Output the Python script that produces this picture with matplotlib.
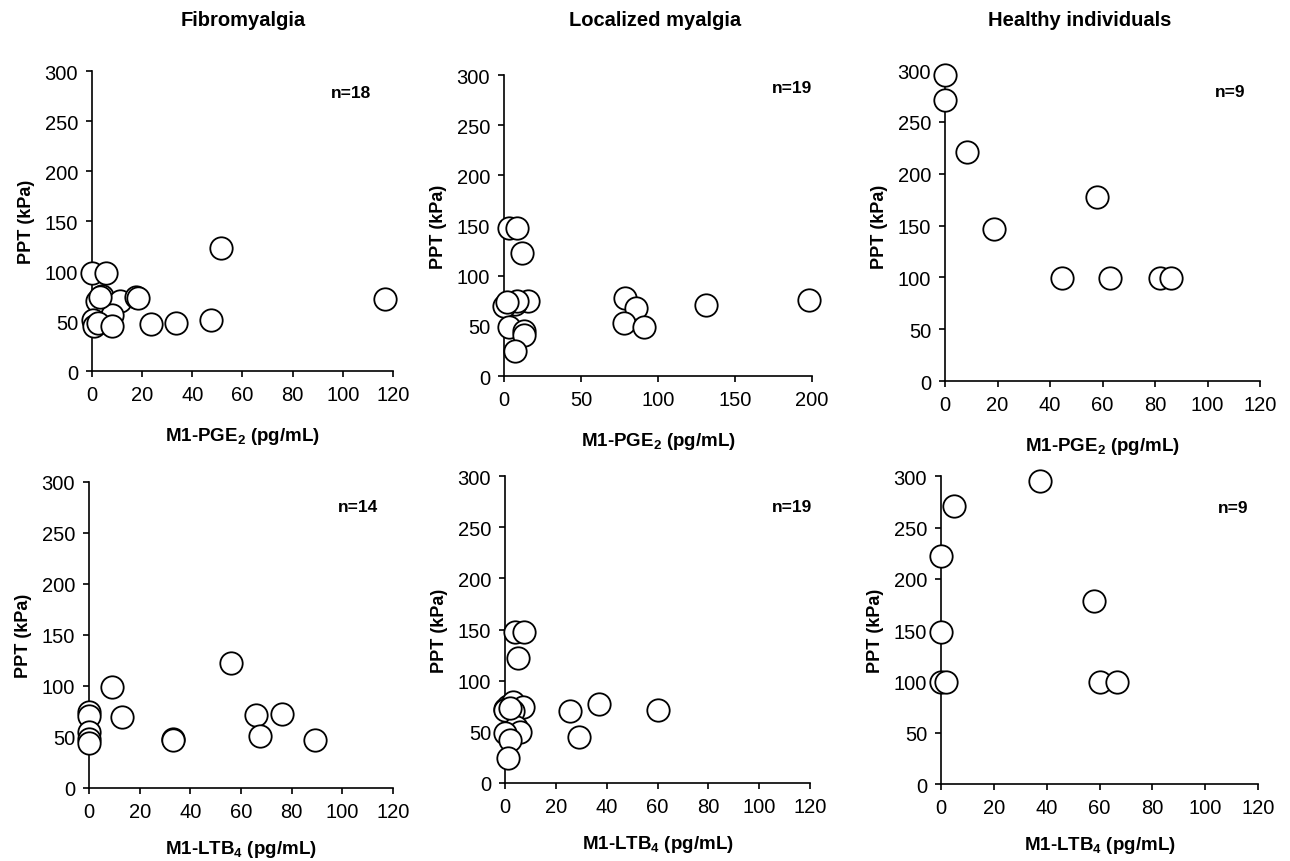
import matplotlib
matplotlib.use("Agg")
import matplotlib.pyplot as plt

plt.rcParams['font.family'] = ['Liberation Sans', 'DejaVu Sans']
plt.rcParams['mathtext.fontset'] = 'custom'
plt.rcParams['mathtext.bf'] = 'Liberation Sans:bold'
plt.rcParams['mathtext.rm'] = 'Liberation Sans:bold'

titles = ["Fibromyalgia", "Localized myalgia", "Healthy individuals"]

# Top row: M1-PGE2
fm_pge_x = [0, 5.5, 4, 2, 11, 17.5, 18.3, 117, 51.5, 8, 0.5, 1, 2.5, 8, 23.5, 33.5, 47.5, 3]
fm_pge_y = [98, 98, 75, 70, 70, 74, 73, 72, 123, 56, 51, 45, 48, 45, 47, 48, 51, 74]
lm_pge_x = [3, 8.5, 12, 15.5, 3, 7, 8.5, 0, 2, 3, 13, 13, 7, 78.5, 85.5, 78, 91, 131, 198]
lm_pge_y = [148, 148, 123, 75, 73, 72, 75, 70, 74, 49, 45, 41, 25, 78, 68, 53, 49, 71, 76]
hi_pge_x = [0, 0, 8.5, 18.5, 58, 44.5, 63, 82, 86]
hi_pge_y = [295, 271, 221, 147, 178, 99, 99, 99, 99]

# Bottom row: M1-LTB4
fm_ltb_x = [0, 0, 0, 0, 0, 9, 13, 33, 33.2, 56, 66, 76, 67.5, 89]
fm_ltb_y = [74.5, 71, 55, 48, 44, 99, 70, 48, 47.5, 123, 72, 73, 51, 47]
lm_ltb_x = [4, 7.5, 5, 0, 1, 3, 7, 3, 0, 4.5, 6, 0, 2, 1.3, 25.7, 29, 37, 60, 2]
lm_ltb_y = [148, 148, 122, 72.6, 75, 79, 74, 70, 71, 55, 50, 49, 42, 24, 70, 45, 77, 71, 73]
hi_ltb_x = [37.5, 5, 0, 0, 0, 2, 58, 60, 66.7]
hi_ltb_y = [295, 271, 222, 148, 99, 99, 178, 99, 99]

n_labels = ["n=18", "n=19", "n=9", "n=14", "n=19", "n=9"]
xlabels = [r"M1-PGE$_\mathbf{2}$ (pg/mL)", r"M1-LTB$_\mathbf{4}$ (pg/mL)"]

fig = plt.figure(figsize=(12.9, 8.62), dpi=100)

positions = [
    [0.0713, 0.5684, 0.2333, 0.348],
    [0.3907, 0.5626, 0.2388, 0.349],
    [0.7326, 0.5568, 0.2442, 0.3608],
    [0.0690, 0.0847, 0.2357, 0.355],
    [0.3915, 0.0905, 0.2364, 0.356],
    [0.7295, 0.0893, 0.2457, 0.357],
]
data = [
    (fm_pge_x, fm_pge_y), (lm_pge_x, lm_pge_y), (hi_pge_x, hi_pge_y),
    (fm_ltb_x, fm_ltb_y), (lm_ltb_x, lm_ltb_y), (hi_ltb_x, hi_ltb_y),
]
xmax = [120, 200, 120, 120, 120, 120]
xstep = [20, 50, 20, 20, 20, 20]
n_pos = [(0.86, 0.93), (0.935, 0.96), (0.905, 0.93), (0.885, 0.92), (0.94, 0.90), (0.92, 0.90)]
title_x = [243, 655, 1080]
label_pads = [15, 15, 15, 12, 12, 12]

for i, (pos, (xs, ys)) in enumerate(zip(positions, data)):
    ax = fig.add_axes(pos)
    ax.scatter(xs, ys, s=260, facecolors='white', edgecolors='black',
               linewidths=1.3, clip_on=False, zorder=3)
    ax.set_xlim(0, xmax[i])
    ax.set_ylim(0, 300)
    ax.set_xticks(range(0, xmax[i] + 1, xstep[i]))
    ax.set_yticks(range(0, 301, 50))
    for s in ['top', 'right']:
        ax.spines[s].set_visible(False)
    for s in ['left', 'bottom']:
        ax.spines[s].set_linewidth(1.2)
    ax.tick_params(direction='out', length=4, width=1.2, labelsize=14.5, pad=6)
    ax.set_ylabel("PPT (kPa)", fontsize=13, fontweight='bold', labelpad=7)
    ax.set_xlabel(xlabels[i // 3], fontsize=13.5, fontweight='bold', labelpad=label_pads[i])
    ax.text(n_pos[i][0], n_pos[i][1], n_labels[i], transform=ax.transAxes,
            ha='center', va='center', fontsize=12.5, fontweight='bold')

for t, x in zip(titles, title_x):
    fig.text(x / 1290, 1 - 21 / 862, t, ha='center', va='center',
             fontsize=14.5, fontweight='bold')

fig.savefig("out.png", dpi=100, facecolor='white')
